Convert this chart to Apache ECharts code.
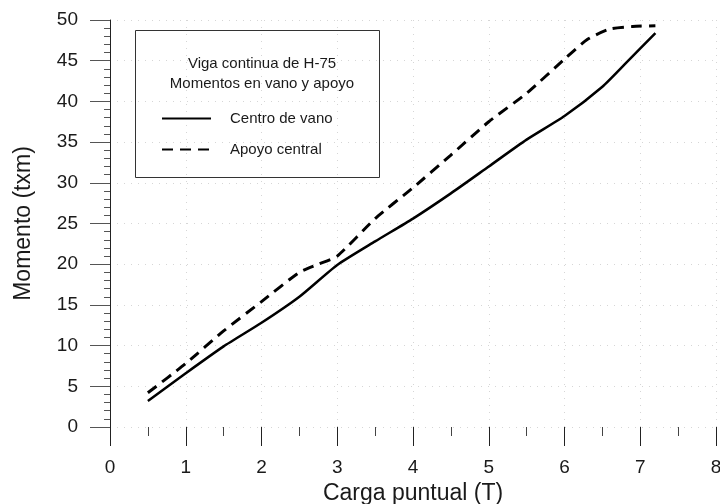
<!DOCTYPE html>
<html>
<head>
<meta charset="utf-8">
<script src="https://cdn.jsdelivr.net/npm/echarts@6/dist/echarts.min.js"></script>
<style>
html,body{margin:0;padding:0;background:#fff;}
#chart{width:720px;height:504px;}
</style>
</head>
<body>
<div id="chart"></div>
<script>
// Data
const cargaCentro  = [0.5, 1.0, 1.5, 2.0, 2.5, 3.0, 3.5, 4.0, 4.5, 5.0, 5.5, 6.0, 6.5, 6.8, 7.2];
const momentoCentro = [3.2, 6.6, 9.9, 12.8, 16.0, 19.9, 22.8, 25.6, 28.7, 32.0, 35.3, 38.2, 41.8, 44.6, 48.4];
const cargaApoyo   = [0.5, 1.0, 1.5, 2.0, 2.5, 2.75, 3.0, 3.5, 4.0, 4.5, 5.0, 5.5, 6.0, 6.3, 6.6, 6.9, 7.2];
const momentoApoyo = [4.2, 7.8, 11.8, 15.4, 19.0, 20.0, 21.0, 25.6, 29.4, 33.4, 37.5, 41.0, 45.2, 47.6, 48.9, 49.2, 49.3];
const seriesNames = ['Centro de vano', 'Apoyo central'];
const legendTitle = 'Viga continua de H-75\nMomentos en vano y apoyo';
const xAxisName = 'Carga puntual (T)';
const yAxisName = 'Momento (txm)';

const zip = (xs, ys) => xs.map((x, i) => [x, ys[i]]);
const FONT = 'Liberation Sans, Arial, sans-serif';

const chart = echarts.init(document.getElementById('chart'), null, {renderer: 'canvas'});
chart.setOption({
  animation: false,
  backgroundColor: '#ffffff',
  textStyle: {fontFamily: FONT, color: '#111'},
  grid: {left: 110, right: 4, top: 20, bottom: 77, containLabel: false, outerBoundsMode: 'none'},
  graphic: [{
    type: 'rect',
    shape: {x: 135.5, y: 30.5, width: 244, height: 147},
    style: {fill: 'none', stroke: '#333', lineWidth: 1},
    z: 10
  }],
  title: {
    text: legendTitle,
    left: 257, top: 49,
    textAlign: 'center',
    textStyle: {fontFamily: FONT, fontSize: 15, fontWeight: 'normal', color: '#1a1a1a', lineHeight: 20}
  },
  legend: {
    orient: 'vertical',
    left: 156, top: 106,
    itemWidth: 49, itemHeight: 14, itemGap: 16,
    itemStyle: {opacity: 0},
    textStyle: {fontFamily: FONT, fontSize: 15, color: '#1a1a1a', padding: [0, 0, 0, 14]},
    data: seriesNames
  },
  xAxis: {
    type: 'value', min: 0, max: 8, interval: 1,
    name: xAxisName, nameLocation: 'middle', nameGap: 49,
    nameTextStyle: {fontFamily: FONT, fontSize: 23, color: '#1a1a1a'},
    axisLine: {show: false},
    axisTick: {show: true, length: 19, lineStyle: {color: '#222', width: 1}},
    minorTick: {show: true, splitNumber: 2, length: 9, lineStyle: {color: '#444', width: 1}},
    axisLabel: {margin: 31, fontFamily: FONT, fontSize: 19, color: '#1a1a1a'},
    splitLine: {show: true, lineStyle: {color: '#d6d6d6', type: [1, 6], width: 1}}
  },
  yAxis: {
    type: 'value', min: 0, max: 50, interval: 5,
    name: yAxisName, nameLocation: 'middle', nameGap: 75,
    nameTextStyle: {fontFamily: FONT, fontSize: 23, color: '#1a1a1a'},
    axisLine: {show: true, lineStyle: {color: '#222', width: 1}},
    axisTick: {show: true, length: 20, lineStyle: {color: '#555', width: 1}},
    minorTick: {show: true, splitNumber: 5, length: 6, lineStyle: {color: '#555', width: 1}},
    axisLabel: {margin: 32, fontFamily: FONT, fontSize: 19, color: '#1a1a1a'},
    splitLine: {show: true, lineStyle: {color: '#d6d6d6', type: [1, 6], width: 1}}
  },
  series: [
    {
      name: seriesNames[0], type: 'line', data: zip(cargaCentro, momentoCentro),
      symbol: 'none', smooth: 0.2,
      lineStyle: {color: '#000', width: 2.5, type: 'solid'},
      itemStyle: {color: '#000'}
    },
    {
      name: seriesNames[1], type: 'line', data: zip(cargaApoyo, momentoApoyo),
      symbol: 'none', smooth: 0.2,
      lineStyle: {color: '#000', width: 3, type: [11, 7]},
      itemStyle: {color: '#000'}
    }
  ]
});
</script>
</body>
</html>
